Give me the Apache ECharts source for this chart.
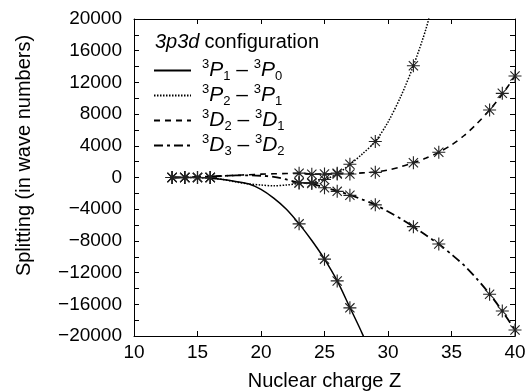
<!DOCTYPE html>
<html><head><meta charset="utf-8">
<script src="https://cdn.jsdelivr.net/npm/echarts@6/dist/echarts.min.js"></script>
<style>html,body{margin:0;padding:0;background:#fff}#c{width:525px;height:392px}</style>
</head><body><div id="c"></div>
<script>
// ---- data ----
const seriesNames = ['3P1-3P0', '3P2-3P1', '3D2-3D1', '3D3-3D2'];
const xTicks = [10, 15, 20, 25, 30, 35, 40];
const yTicks = [-20000, -16000, -12000, -8000, -4000, 0, 4000, 8000, 12000, 16000, 20000];

// curves
const p10Z = [13,14,15,16,17,18,19,20,21,22,23,24,25,26,27,28,28.5];
const p10V = [0,0,-10,-80,-250,-500,-800,-1500,-2600,-4000,-5850,-7950,-10300,-13050,-16400,-19800,-22000];
const p21Z = [13,14,15,16,17,18,19,20,21,22,23,24,25,26,27,28,29,30,31,32,33,33.6];
const p21V = [0,0,-10,-60,-250,-550,-800,-950,-1050,-950,-750,-600,-250,450,1650,3000,4550,7000,10200,14100,18800,22500];
const d21Z = [13,14,15,16,17,18,19,20,21,22,23,24,25,26,27,28,29,30,31,32,33,34,35,36,37,38,39,40];
const d21V = [0,20,60,120,200,280,350,420,470,500,520,450,440,480,500,580,700,950,1350,1870,2450,3180,4100,5300,6800,8520,10500,12800];
const d32Z = [13,14,15,16,17,18,19,20,21,22,23,24,25,26,27,28,29,30,31,32,33,34,35,36,37,38,39,40];
const d32V = [0,20,60,120,200,260,280,220,80,-250,-650,-800,-1250,-1700,-2200,-2800,-3450,-4300,-5200,-6200,-7300,-8400,-9700,-11100,-12800,-14700,-16850,-19250];

// asterisk markers (computed points)
const p10MZ = [13,14,15,16,23,25,26,27];
const p10MV = [0,0,0,0,-5850,-10300,-13050,-16450];
const p21MZ = [13,14,15,16,23,24,25,26,27,29,32];
const p21MV = [0,0,0,0,-700,-650,-250,450,1680,4550,14100];
const d21MZ = [13,14,15,16,23,24,25,26,27,29,32,34,38,39,40];
const d21MV = [0,0,0,0,550,400,430,550,450,650,1870,3180,8520,10620,12800];
const d32MZ = [13,14,15,16,23,24,25,26,27,29,32,34,38,39,40];
const d32MV = [0,0,0,0,-650,-750,-1300,-1750,-2250,-3450,-6200,-8390,-14740,-16850,-19240];

// ---- build ----
const pair = (zs, vs) => zs.map((z, i) => [z, vs[i]]);
const FONT = '"Liberation Sans", Arial, Helvetica, sans-serif';
const STAR = 'path://M0,-10L0,10M-10,0L10,0M-7.1,-7.1L7.1,7.1M-7.1,7.1L7.1,-7.1';

const legendRich = {
  '3P1-3P0': '{s|3}{i|P}{b|1}{n| \u2013 }{s|3}{i|P}{b|0}',
  '3P2-3P1': '{s|3}{i|P}{b|2}{n| \u2013 }{s|3}{i|P}{b|1}',
  '3D2-3D1': '{s|3}{i|D}{b|2}{n| \u2013 }{s|3}{i|D}{b|1}',
  '3D3-3D2': '{s|3}{i|D}{b|3}{n| \u2013 }{s|3}{i|D}{b|2}'
};
const lineStyles = [
  {type: 'solid', width: 1.5},
  {type: [1.5, 1.5], width: 1.5},
  {type: [6, 5], width: 1.6},
  {type: [9, 4, 3, 4], width: 1.8}
];
const curves = [pair(p10Z, p10V), pair(p21Z, p21V), pair(d21Z, d21V), pair(d32Z, d32V)];
const marks = [pair(p10MZ, p10MV), pair(p21MZ, p21MV), pair(d21MZ, d21MV), pair(d32MZ, d32MV)];

const series = [];
seriesNames.forEach((n, k) => {
  series.push({
    name: n, type: 'line', data: curves[k], smooth: 0.3, symbol: 'none',
    lineStyle: Object.assign({color: '#000'}, lineStyles[k]),
    itemStyle: {color: '#000'}, clip: true, z: 2,
    emphasis: {disabled: true}
  });
});
seriesNames.forEach((n, k) => {
  series.push({
    name: n + ' pts', type: 'scatter', data: marks[k], symbol: STAR, symbolSize: 13,
    itemStyle: {color: 'rgba(0,0,0,0)', borderColor: '#222', borderWidth: 1.1, opacity: 1},
    emphasis: {disabled: true}, z: 3, clip: false
  });
});

const axisCommon = {
  axisLine: {show: true, onZero: false, lineStyle: {color: '#000', width: 1}},
  axisTick: {show: true, inside: true, length: 5, lineStyle: {color: '#000'}},
  splitLine: {show: false}
};
const minus = v => v < 0 ? '\u2212' + Math.abs(v) : String(v);

const chart = echarts.init(document.getElementById('c'), null, {renderer: 'canvas'});
chart.setOption({
  animation: false,
  backgroundColor: '#fff',
  textStyle: {fontFamily: FONT, color: '#000'},
  grid: {left: 134, right: 10, top: 19, bottom: 56, containLabel: false, outerBoundsMode: 'none'},
  title: {
    text: '{it|3p3d} {r|configuration}', left: 155, top: 32, padding: 0,
    textStyle: {fontWeight: 'normal', rich: {
      it: {fontStyle: 'italic', fontWeight: 'normal', fontSize: 20, fontFamily: FONT, color: '#000'},
      r: {fontWeight: 'normal', fontSize: 20, fontFamily: FONT, color: '#000'}
    }}
  },
  legend: {
    data: seriesNames, orient: 'vertical', left: 153, top: 58, padding: 0,
    itemGap: 0, itemWidth: 37, itemHeight: 14, selectedMode: false,
    itemStyle: {color: 'rgba(0,0,0,0)', borderWidth: 0, opacity: 0},
    lineStyle: {color: '#000'},
    formatter: n => legendRich[n],
    textStyle: {
      padding: [0, 0, 0, 6],
      rich: {
        i: {fontStyle: 'italic', fontSize: 21, lineHeight: 25, fontFamily: FONT, color: '#000'},
        n: {fontSize: 21, lineHeight: 25, fontFamily: FONT, color: '#000'},
        s: {fontSize: 13, lineHeight: 14, verticalAlign: 'top', fontFamily: FONT, color: '#000'},
        b: {fontSize: 13, lineHeight: 14, verticalAlign: 'bottom', fontFamily: FONT, color: '#000'}
      }
    }
  },
  xAxis: [
    Object.assign({
      type: 'value', min: xTicks[0], max: xTicks[xTicks.length - 1], interval: 5, position: 'bottom',
      name: 'Nuclear charge Z', nameLocation: 'middle', nameGap: 35,
      nameTextStyle: {fontSize: 20, fontFamily: FONT, color: '#000'},
      axisLabel: {fontSize: 19, fontFamily: FONT, color: '#000', margin: 7}
    }, axisCommon),
    Object.assign({
      type: 'value', min: 10, max: 40, interval: 5, position: 'top',
      axisLabel: {show: false}
    }, axisCommon)
  ],
  yAxis: [
    Object.assign({
      type: 'value', min: yTicks[0], max: yTicks[yTicks.length - 1], interval: 4000, position: 'left',
      name: 'Splitting (in wave numbers)', nameLocation: 'middle', nameGap: 100,
      nameTextStyle: {fontSize: 20, fontFamily: FONT, color: '#000', padding: [0, 0, 0, 44]},
      axisLabel: {fontSize: 19, fontFamily: FONT, color: '#000', margin: 12, formatter: minus},
      minorTick: {show: true, splitNumber: 2, length: 5, lineStyle: {color: '#000'}}
    }, axisCommon),
    Object.assign({
      type: 'value', min: -20000, max: 20000, interval: 4000, position: 'right',
      axisLabel: {show: false},
      minorTick: {show: true, splitNumber: 2, length: 5, lineStyle: {color: '#000'}}
    }, axisCommon)
  ],
  series: series
});
</script>
</body></html>
